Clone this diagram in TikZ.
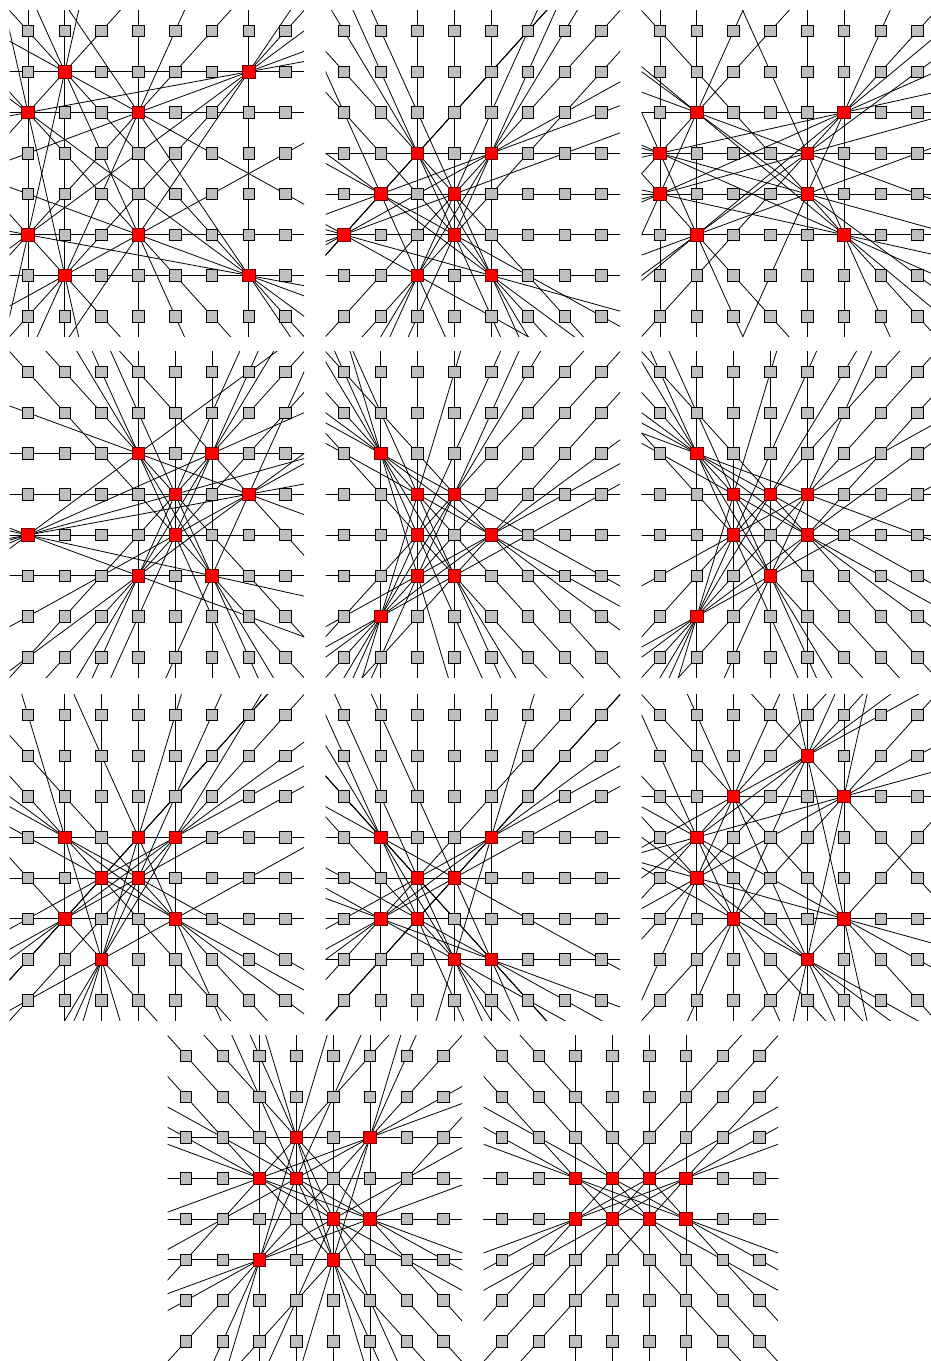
\documentclass[tikz,border=0pt]{standalone}
\definecolor{cellgray}{RGB}{190,190,190}
\definecolor{queenred}{RGB}{255,0,0}
\definecolor{queenedge}{RGB}{110,0,0}
\usepackage{tikz}
\usetikzlibrary{calc}

\tikzset{
  cell/.style={draw=black,fill=cellgray,line width=0.8pt,minimum size=11.5pt,inner sep=0pt},
  queen/.style={draw=queenedge,fill=queenred,line width=0.8pt,minimum size=12.5pt,inner sep=0pt},
  pairline/.style={black,line width=0.8pt}
}

% #1,#2: top left corner of the board (pt), #3: red cells col/row
\newcommand{\drawboard}[3]{%
  \begin{scope}[shift={(#1pt,-#2pt)},x=36.8pt,y=-40.75pt]
    \clip (0,0) rectangle (8,8);
    % lines through each pair of red cells
    \foreach \a/\b [count=\i] in {#3} {
      \foreach \c/\d [count=\j] in {#3} {
        \ifnum\j>\i
          \draw[pairline] ($(\a+.5,\b+.5)!-25!(\c+.5,\d+.5)$) -- ($(\c+.5,\d+.5)!-25!(\a+.5,\b+.5)$);
        \fi
      }
    }
    % grey cells
    \foreach \c in {0,...,7}
      \foreach \r in {0,...,7}
        \node[cell] (cell-\c-\r) at (\c+.5,\r+.5) {};
    % red cells
    \foreach \a/\b in {#3}
      \node[queen] (queen-\a-\b) at (\a+.5,\b+.5) {};
  \end{scope}}

\begin{document}
\begin{tikzpicture}
  \useasboundingbox (0,0) rectangle (930pt,-1361pt);
  % first row
  \drawboard{9.6}{10.6}{1/1,6/1,0/2,3/2,0/5,3/5,1/6,6/6}
  \drawboard{325.6}{10.6}{2/3,4/3,1/4,3/4,0/5,3/5,2/6,4/6}
  \drawboard{641.6}{10.6}{1/2,5/2,0/3,4/3,0/4,4/4,1/5,5/5}
  % second row
  \drawboard{9.6}{351.6}{3/2,5/2,4/3,6/3,0/4,4/4,3/5,5/5}
  \drawboard{325.6}{351.6}{1/2,2/3,3/3,2/4,4/4,2/5,3/5,1/6}
  \drawboard{641.6}{351.6}{1/2,2/3,3/3,4/3,2/4,4/4,3/5,1/6}
  % third row
  \drawboard{9.6}{694.6}{1/3,3/3,4/3,2/4,3/4,1/5,4/5,2/6}
  \drawboard{325.6}{694.6}{1/3,4/3,2/4,3/4,1/5,2/5,3/6,4/6}
  \drawboard{641.6}{694.6}{4/1,2/2,5/2,1/3,1/4,2/5,5/5,4/6}
  % last row
  \drawboard{167.6}{1035.6}{3/2,5/2,2/3,3/3,4/4,5/4,2/5,4/5}
  \drawboard{483.6}{1035.6}{2/3,3/3,4/3,5/3,2/4,3/4,4/4,5/4}
\end{tikzpicture}
\end{document}
